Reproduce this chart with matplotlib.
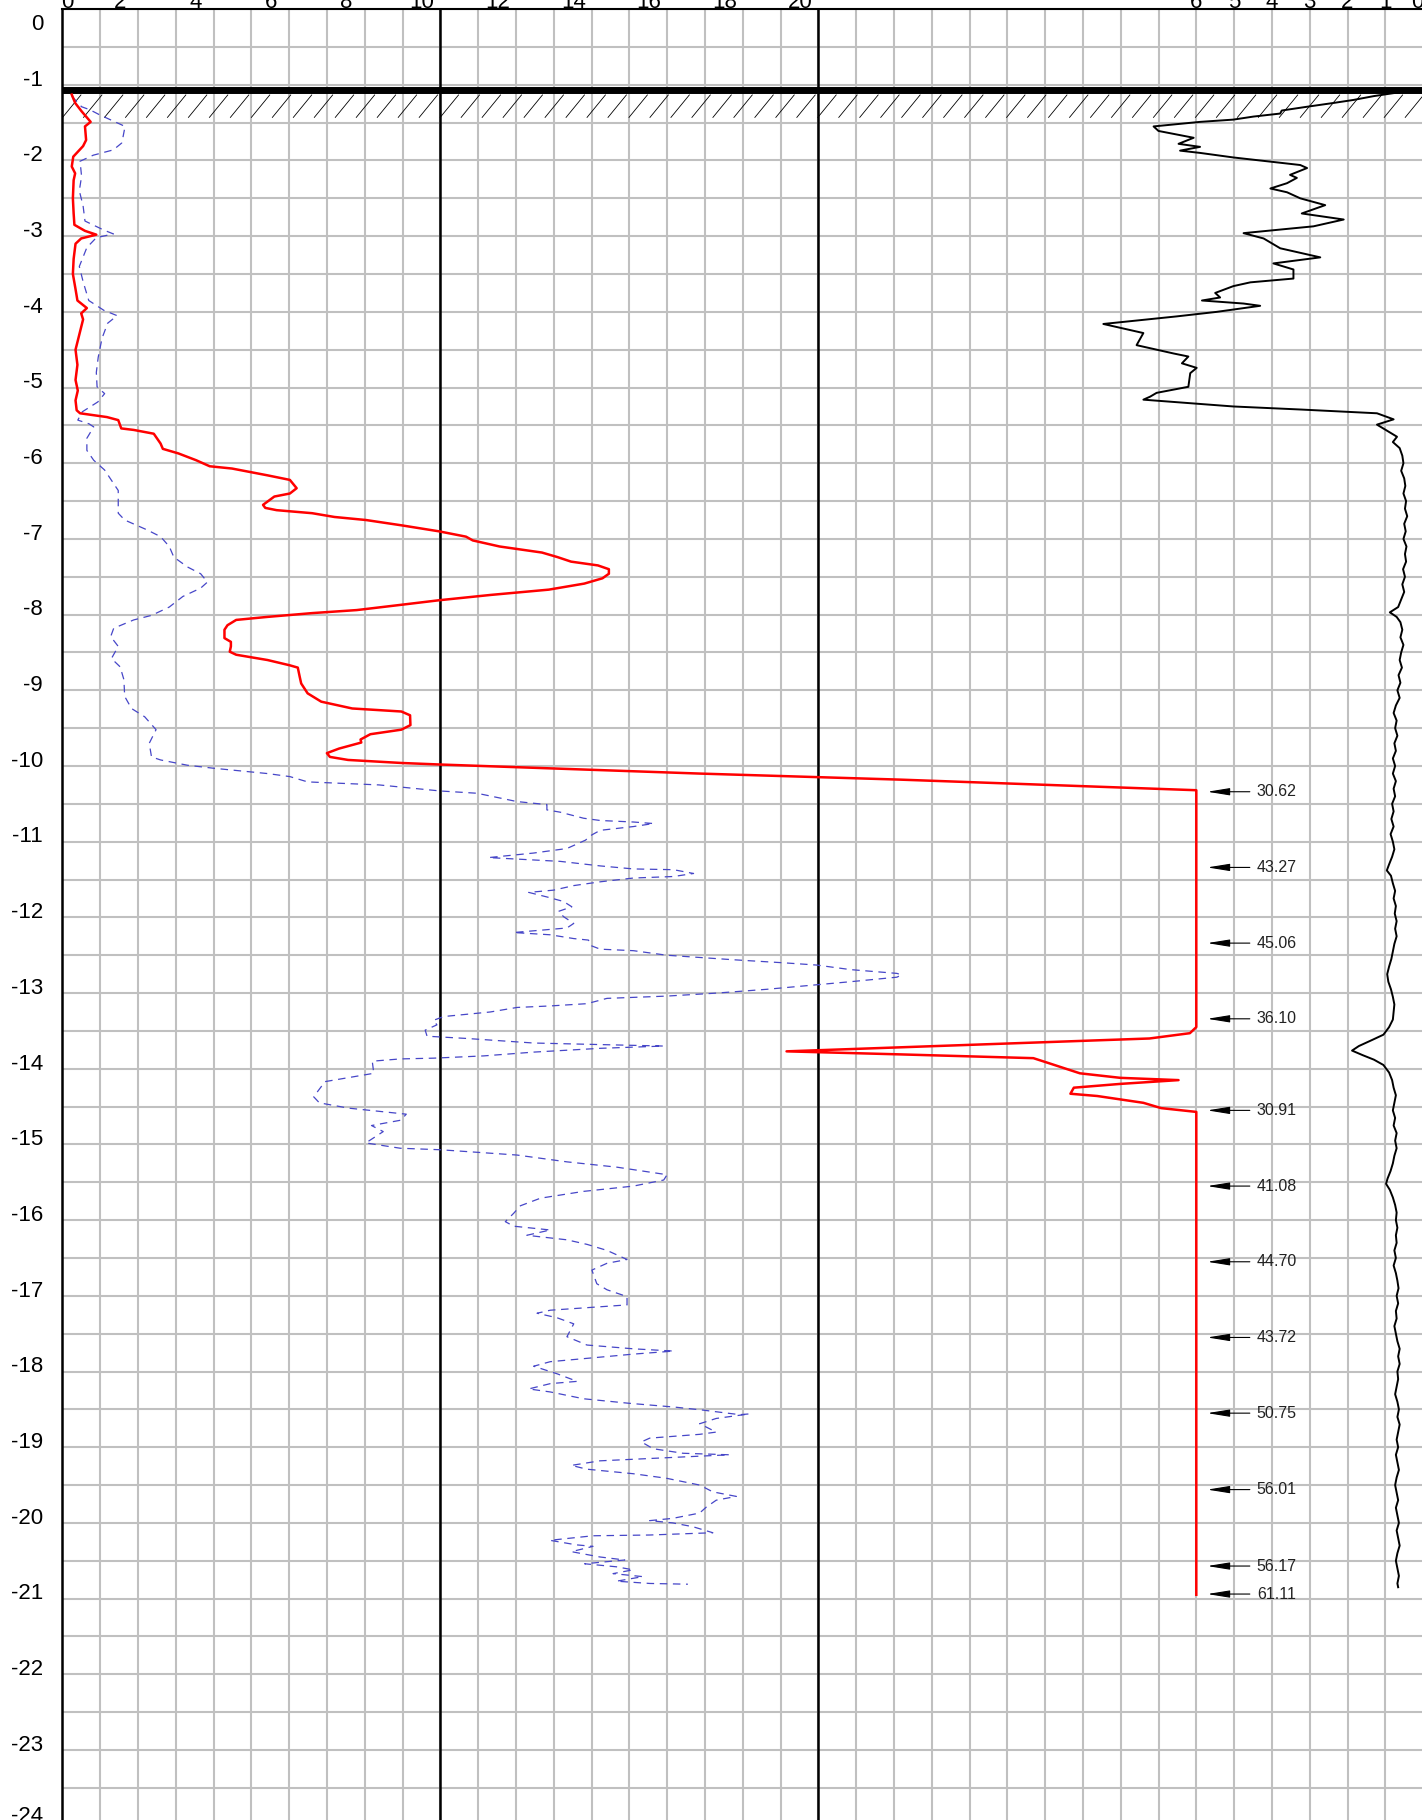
import numpy as np
import matplotlib
matplotlib.use("Agg")
import matplotlib.pyplot as plt
from matplotlib.collections import LineCollection

plt.rcParams['font.family'] = ['Liberation Sans', 'DejaVu Sans']

# DATA

# cone resistance qc (MPa), plotted on 0..30 scale (clipped at 30)
qc_points = [
    (-1.13, 0.25), (-1.24, 0.34), (-1.35, 0.51), (-1.49, 0.75), (-1.55, 0.60),
    (-1.73, 0.63), (-1.81, 0.55), (-1.95, 0.29), (-2.08, 0.25), (-2.17, 0.34),
    (-2.26, 0.30), (-2.50, 0.28), (-2.70, 0.30), (-2.85, 0.32), (-2.93, 0.60),
    (-2.98, 0.90), (-3.03, 0.50), (-3.10, 0.35), (-3.30, 0.30), (-3.50, 0.28),
    (-3.70, 0.35), (-3.85, 0.40), (-3.95, 0.65), (-4.02, 0.50), (-4.10, 0.55),
    (-4.30, 0.45), (-4.50, 0.35), (-4.70, 0.40), (-4.90, 0.35), (-5.04, 0.41),
    (-5.17, 0.35), (-5.30, 0.38), (-5.34, 0.47), (-5.39, 1.18), (-5.43, 1.48),
    (-5.54, 1.56), (-5.56, 1.89), (-5.61, 2.42), (-5.74, 2.60), (-5.81, 2.66),
    (-5.87, 3.07), (-5.96, 3.54), (-6.04, 3.90), (-6.07, 4.49), (-6.16, 5.43),
    (-6.22, 6.02), (-6.33, 6.20), (-6.40, 6.02), (-6.44, 5.61), (-6.55, 5.31),
    (-6.59, 5.37), (-6.62, 5.67), (-6.66, 6.61), (-6.71, 7.20), (-6.75, 8.03),
    (-6.82, 8.97), (-6.90, 9.97), (-6.97, 10.68), (-7.02, 10.86), (-7.10, 11.57),
    (-7.18, 12.69), (-7.24, 13.10), (-7.30, 13.46), (-7.35, 14.17), (-7.40, 14.46),
    (-7.46, 14.46), (-7.52, 14.29), (-7.59, 13.81), (-7.67, 12.87), (-7.74, 11.33),
    (-7.81, 9.97), (-7.87, 8.97), (-7.94, 7.79), (-7.98, 6.61), (-8.03, 5.43),
    (-8.07, 4.60), (-8.14, 4.37), (-8.20, 4.29), (-8.31, 4.29), (-8.36, 4.46),
    (-8.42, 4.46), (-8.49, 4.43), (-8.53, 4.60), (-8.60, 5.43), (-8.67, 6.02),
    (-8.70, 6.23), (-8.82, 6.28), (-8.91, 6.32), (-9.04, 6.49), (-9.15, 6.85),
    (-9.24, 7.67), (-9.28, 8.97), (-9.33, 9.20), (-9.46, 9.21), (-9.52, 8.97),
    (-9.58, 8.15), (-9.65, 7.89), (-9.69, 7.91), (-9.77, 7.32), (-9.83, 7.00),
    (-9.88, 7.08), (-9.92, 7.56), (-9.96, 8.97), (-9.98, 9.97), (-10.10, 16.86),
    (-10.18, 22.16), (-10.32, 30.0), (-13.45, 30.0), (-13.53, 29.83), (-13.60, 28.76),
    (-13.77, 19.16), (-13.81, 22.16), (-13.86, 25.69), (-13.91, 26.00), (-14.06, 26.92),
    (-14.12, 27.99), (-14.15, 29.53), (-14.20, 27.99), (-14.25, 26.76), (-14.33, 26.67),
    (-14.36, 27.38), (-14.45, 28.60), (-14.52, 29.07), (-14.57, 30.0), (-20.95, 30.0),
]

# sleeve friction (scaled), blue dashed
fs_points = [
    (-1.15, 0.25), (-1.29, 0.51), (-1.33, 0.73), (-1.40, 1.00), (-1.50, 1.44),
    (-1.55, 1.66), (-1.68, 1.61), (-1.77, 1.57), (-1.86, 1.35), (-1.93, 0.82),
    (-2.01, 0.47), (-2.21, 0.51), (-2.40, 0.45), (-2.60, 0.55), (-2.80, 0.60),
    (-2.92, 1.10), (-2.97, 1.35), (-3.02, 0.90), (-3.15, 0.65), (-3.40, 0.45),
    (-3.60, 0.55), (-3.85, 0.70), (-3.98, 1.10), (-4.05, 1.45), (-4.15, 1.20),
    (-4.35, 1.05), (-4.60, 0.95), (-4.80, 0.90), (-4.99, 0.92), (-5.08, 1.12),
    (-5.19, 0.94), (-5.32, 0.53), (-5.43, 0.41), (-5.48, 0.71), (-5.52, 0.83),
    (-5.67, 0.65), (-5.83, 0.65), (-5.96, 0.83), (-6.09, 1.12), (-6.36, 1.48),
    (-6.66, 1.48), (-6.75, 1.65), (-6.88, 2.24), (-6.97, 2.60), (-7.10, 2.83),
    (-7.24, 2.95), (-7.37, 3.31), (-7.46, 3.66), (-7.57, 3.84), (-7.65, 3.66),
    (-7.76, 3.19), (-7.90, 2.83), (-8.01, 2.36), (-8.07, 1.89), (-8.18, 1.36),
    (-8.29, 1.28), (-8.42, 1.48), (-8.58, 1.30), (-8.69, 1.53), (-8.86, 1.63),
    (-9.08, 1.65), (-9.24, 1.83), (-9.35, 2.18), (-9.52, 2.48), (-9.70, 2.30),
    (-9.88, 2.36), (-9.92, 2.60), (-9.99, 3.31), (-10.03, 4.01), (-10.10, 5.43),
    (-10.14, 6.02), (-10.21, 6.49), (-10.25, 8.38), (-10.30, 9.40), (-10.33, 10.00),
    (-10.36, 10.97), (-10.47, 12.03), (-10.51, 12.82), (-10.58, 12.82), (-10.61, 13.17),
    (-10.69, 13.79), (-10.72, 14.23), (-10.74, 15.11), (-10.76, 15.64), (-10.80, 15.11),
    (-10.85, 14.23), (-10.91, 14.01), (-10.98, 13.84), (-11.09, 13.35), (-11.15, 12.47),
    (-11.21, 11.28), (-11.23, 12.03), (-11.26, 13.17), (-11.32, 14.23), (-11.36, 15.11),
    (-11.37, 16.17), (-11.42, 16.70), (-11.46, 16.17), (-11.48, 15.11), (-11.53, 14.23),
    (-11.58, 13.53), (-11.64, 13.00), (-11.67, 12.34), (-11.73, 12.82), (-11.79, 13.26),
    (-11.86, 13.48), (-11.92, 13.13), (-11.99, 13.26), (-12.08, 13.53), (-12.14, 13.35),
    (-12.17, 12.65), (-12.20, 11.94), (-12.23, 12.91), (-12.28, 13.53), (-12.30, 13.92),
    (-12.37, 13.97), (-12.42, 14.23), (-12.44, 15.11), (-12.50, 15.99), (-12.53, 16.88),
    (-12.56, 17.76), (-12.60, 19.08), (-12.63, 19.96), (-12.69, 20.85), (-12.74, 22.08),
    (-12.76, 22.20), (-12.79, 22.08), (-12.85, 20.85), (-12.89, 19.96), (-12.95, 18.64),
    (-13.00, 17.32), (-13.04, 15.99), (-13.07, 14.41), (-13.14, 13.88), (-13.17, 12.91),
    (-13.19, 12.03), (-13.25, 11.32), (-13.31, 10.09), (-13.36, 9.82), (-13.42, 9.91),
    (-13.49, 9.60), (-13.57, 9.65), (-13.60, 10.71), (-13.66, 12.47), (-13.68, 14.23),
    (-13.70, 15.91), (-13.73, 14.23), (-13.78, 12.47), (-13.83, 11.15), (-13.86, 9.82),
    (-13.87, 8.94), (-13.90, 8.20), (-14.06, 8.24), (-14.17, 6.95), (-14.37, 6.65),
    (-14.45, 6.80), (-14.52, 7.57), (-14.60, 9.10), (-14.68, 8.95), (-14.75, 8.18),
    (-14.83, 8.49), (-14.98, 8.03), (-15.05, 8.94), (-15.07, 10.00), (-15.14, 12.03),
    (-15.23, 13.35), (-15.30, 14.67), (-15.40, 16.00), (-15.47, 15.91), (-15.55, 15.11),
    (-15.62, 13.79), (-15.71, 12.65), (-15.81, 12.12), (-15.91, 11.94), (-16.02, 11.72),
    (-16.08, 11.94), (-16.13, 12.91), (-16.20, 12.29), (-16.26, 13.35), (-16.32, 13.88),
    (-16.40, 14.41), (-16.52, 14.94), (-16.57, 14.41), (-16.66, 14.01), (-16.84, 14.14),
    (-16.92, 14.41), (-17.01, 14.94), (-17.12, 14.94), (-17.15, 14.06), (-17.19, 12.91),
    (-17.23, 12.56), (-17.29, 13.09), (-17.37, 13.53), (-17.54, 13.35), (-17.65, 13.88),
    (-17.70, 15.11), (-17.73, 16.17), (-17.77, 15.11), (-17.83, 13.79), (-17.87, 12.91),
    (-17.93, 12.47), (-18.03, 13.09), (-18.13, 13.62), (-18.16, 12.91), (-18.23, 12.34),
    (-18.27, 12.91), (-18.36, 13.79), (-18.42, 15.00), (-18.47, 16.20), (-18.51, 16.95),
    (-18.57, 17.92), (-18.56, 18.18), (-18.62, 17.30), (-18.69, 16.86), (-18.80, 17.30),
    (-18.83, 16.86), (-18.88, 15.54), (-18.93, 15.32), (-19.02, 15.63), (-19.08, 16.42),
    (-19.10, 17.65), (-19.15, 15.54), (-19.18, 14.22), (-19.24, 13.47), (-19.29, 13.87),
    (-19.35, 15.10), (-19.41, 15.98), (-19.50, 16.86), (-19.59, 17.21), (-19.65, 17.83),
    (-19.70, 17.30), (-19.79, 17.04), (-19.87, 16.86), (-19.94, 16.15), (-19.97, 15.54),
    (-20.00, 16.15), (-20.05, 16.68), (-20.13, 17.21), (-20.16, 15.54), (-20.17, 14.04),
    (-20.23, 12.90), (-20.29, 13.60), (-20.31, 14.04), (-20.38, 13.47), (-20.45, 14.22),
    (-20.49, 14.88), (-20.54, 13.82), (-20.58, 14.66), (-20.62, 15.10), (-20.67, 14.57),
    (-20.71, 15.36), (-20.77, 14.66), (-20.80, 15.54), (-20.81, 16.55),
]

# friction ratio Rf (%), right-hand reversed scale 0..6
rf_points = [
    (-1.08, 0.15), (-1.11, 0.78), (-1.15, 1.31), (-1.20, 1.84), (-1.24, 2.37),
    (-1.29, 3.07), (-1.34, 3.74), (-1.38, 3.78), (-1.42, 4.49), (-1.46, 5.02),
    (-1.49, 5.90), (-1.55, 7.13), (-1.61, 7.00), (-1.70, 6.07), (-1.78, 6.47),
    (-1.82, 5.90), (-1.87, 6.43), (-1.90, 5.90), (-1.96, 5.02), (-2.06, 3.25),
    (-2.10, 3.07), (-2.19, 3.52), (-2.23, 3.34), (-2.30, 3.60), (-2.37, 4.04),
    (-2.42, 3.60), (-2.50, 3.25), (-2.59, 2.59), (-2.70, 3.21), (-2.76, 2.37),
    (-2.78, 2.10), (-2.87, 2.90), (-2.96, 4.75), (-3.03, 4.22), (-3.16, 3.78),
    (-3.20, 3.43), (-3.28, 2.72), (-3.36, 3.96), (-3.44, 3.43), (-3.56, 3.43),
    (-3.61, 4.57), (-3.66, 5.02), (-3.75, 5.50), (-3.81, 5.37), (-3.85, 5.85),
    (-3.89, 4.75), (-3.92, 4.31), (-4.00, 5.46), (-4.06, 6.52), (-4.16, 8.46),
    (-4.28, 7.40), (-4.44, 7.58), (-4.55, 6.60), (-4.59, 6.21), (-4.68, 6.38),
    (-4.74, 5.99), (-4.81, 6.16), (-4.99, 6.21), (-5.07, 7.05), (-5.12, 7.22),
    (-5.16, 7.40), (-5.25, 5.02), (-5.29, 3.25), (-5.34, 1.22), (-5.42, 0.78),
    (-5.49, 1.22), (-5.65, 0.69), (-5.72, 0.80), (-5.80, 0.62), (-5.90, 0.55),
    (-6.00, 0.52), (-6.10, 0.58), (-6.20, 0.50), (-6.30, 0.47), (-6.40, 0.52),
    (-6.50, 0.45), (-6.60, 0.48), (-6.70, 0.42), (-6.80, 0.50), (-6.90, 0.46),
    (-7.00, 0.52), (-7.10, 0.44), (-7.20, 0.48), (-7.30, 0.45), (-7.40, 0.53),
    (-7.50, 0.48), (-7.60, 0.55), (-7.70, 0.50), (-7.80, 0.58), (-7.90, 0.66),
    (-7.97, 0.88), (-8.03, 0.70), (-8.10, 0.60), (-8.20, 0.55), (-8.30, 0.60),
    (-8.40, 0.52), (-8.50, 0.58), (-8.60, 0.62), (-8.70, 0.56), (-8.80, 0.65),
    (-8.90, 0.60), (-9.00, 0.68), (-9.10, 0.62), (-9.20, 0.72), (-9.30, 0.78),
    (-9.40, 0.70), (-9.50, 0.74), (-9.60, 0.68), (-9.70, 0.76), (-9.80, 0.72),
    (-9.90, 0.80), (-10.00, 0.74), (-10.10, 0.80), (-10.20, 0.72), (-10.30, 0.78),
    (-10.40, 0.74), (-10.50, 0.82), (-10.60, 0.78), (-10.70, 0.84), (-10.80, 0.78),
    (-10.90, 0.86), (-11.00, 0.80), (-11.10, 0.76), (-11.20, 0.82), (-11.30, 0.90),
    (-11.38, 0.96), (-11.45, 0.85), (-11.55, 0.80), (-11.65, 0.74), (-11.75, 0.78),
    (-11.85, 0.72), (-11.95, 0.75), (-12.05, 0.70), (-12.15, 0.74), (-12.25, 0.70),
    (-12.35, 0.76), (-12.45, 0.80), (-12.55, 0.84), (-12.65, 0.90), (-12.75, 0.95),
    (-12.85, 0.92), (-12.95, 0.85), (-13.05, 0.80), (-13.15, 0.76), (-13.25, 0.78),
    (-13.35, 0.80), (-13.45, 0.90), (-13.55, 1.05), (-13.62, 1.35), (-13.70, 1.70),
    (-13.76, 1.88), (-13.82, 1.60), (-13.88, 1.30), (-13.95, 1.05), (-14.05, 0.90),
    (-14.15, 0.82), (-14.25, 0.78), (-14.35, 0.72), (-14.45, 0.76), (-14.55, 0.80),
    (-14.65, 0.74), (-14.75, 0.78), (-14.85, 0.70), (-14.95, 0.74), (-15.05, 0.70),
    (-15.15, 0.76), (-15.25, 0.80), (-15.35, 0.86), (-15.45, 0.94), (-15.52, 0.98),
    (-15.60, 0.88), (-15.70, 0.80), (-15.80, 0.74), (-15.90, 0.70), (-16.00, 0.72),
    (-16.10, 0.68), (-16.20, 0.72), (-16.30, 0.70), (-16.40, 0.76), (-16.50, 0.72),
    (-16.60, 0.78), (-16.70, 0.72), (-16.80, 0.68), (-16.90, 0.65), (-17.00, 0.70),
    (-17.10, 0.66), (-17.20, 0.72), (-17.30, 0.70), (-17.40, 0.76), (-17.50, 0.72),
    (-17.60, 0.68), (-17.70, 0.62), (-17.80, 0.66), (-17.90, 0.62), (-18.00, 0.68),
    (-18.10, 0.66), (-18.20, 0.70), (-18.30, 0.74), (-18.40, 0.68), (-18.50, 0.64),
    (-18.60, 0.68), (-18.70, 0.62), (-18.80, 0.66), (-18.90, 0.70), (-19.00, 0.66),
    (-19.10, 0.72), (-19.20, 0.68), (-19.30, 0.64), (-19.40, 0.70), (-19.50, 0.74),
    (-19.60, 0.70), (-19.70, 0.66), (-19.80, 0.72), (-19.90, 0.68), (-20.00, 0.64),
    (-20.10, 0.70), (-20.20, 0.66), (-20.30, 0.62), (-20.40, 0.68), (-20.50, 0.72),
    (-20.60, 0.68), (-20.70, 0.64), (-20.80, 0.68), (-20.85, 0.66),
]

# qc values beyond the 30 MPa clip, shown with arrows
peak_depths = [-10.34, -11.34, -12.34, -13.34, -14.55, -15.55,
               -16.55, -17.55, -18.55, -19.56, -20.57, -20.94]
peak_labels = ["30.62", "43.27", "45.06", "36.10", "30.91", "41.08",
               "44.70", "43.72", "50.75", "56.01", "56.17", "61.11"]

depth_ticks = list(range(0, -25, -1))
qc_ticks = list(range(0, 21, 2))
rf_ticks = [6, 5, 4, 3, 2, 1, 0]

ground_level = -1.075
x_max = 36          # right edge of the plot in qc units; Rf 0 sits here
qc_clip = 30

# FIGURE
W, H = 1422, 1820
fig = plt.figure(figsize=(W / 100, H / 100), dpi=100)
left_px, top_px = 62.3, 9.1
px_x, px_y = 37.8, 75.69
ax = fig.add_axes([left_px / W, (H - top_px - 24 * px_y) / H,
                   x_max * px_x / W, 24 * px_y / H])
ax.set_xlim(0, x_max)
ax.set_ylim(-24, 0)

ax.set_xticks(np.arange(0, x_max + 1, 1))
ax.set_yticks(np.arange(-24, 0.01, 0.5))
ax.tick_params(length=0, labelbottom=False, labelleft=False)
ax.grid(True, color="#c0c0c0", lw=1.5, zorder=0)
ax.set_axisbelow(True)
for s in ["right", "bottom"]:
    ax.spines[s].set_visible(False)
ax.spines["left"].set_linewidth(1.8)
ax.spines["top"].set_linewidth(1.5)
for v in [10, 20]:
    ax.axvline(v, color="black", lw=1.8, zorder=1)

# ground level and hatching
ax.axhline(ground_level, color="black", lw=5, zorder=3)
hatch_x = np.arange(0, x_max, 0.555)
segs = [[(x0, -1.435), (x0 + 0.5, -1.13)] for x0 in hatch_x]
ax.add_collection(LineCollection(segs, colors="black", linewidths=0.6, zorder=2))

# curves
qc = np.array(qc_points)
fs = np.array(fs_points)
rf = np.array(rf_points)
ax.plot(fs[:, 1], fs[:, 0], color="#4646c8", lw=0.9, ls=(0, (6, 4.5)), zorder=4)
ax.plot(qc[:, 1], qc[:, 0], color="#ff0000", lw=1.8, zorder=5)
ax.plot(x_max - rf[:, 1], rf[:, 0], color="black", lw=1.4, zorder=5)

# peak values with arrows
for d, lab in zip(peak_depths, peak_labels):
    ax.annotate(lab, xy=(qc_clip + 0.29, d), xytext=(31.6, d),
                ha="left", va="center", fontsize=11.5, color="#222222",
                arrowprops=dict(arrowstyle="-|>,head_length=0.68,head_width=0.11",
                                color="black", lw=0.8, shrinkA=3, shrinkB=0,
                                mutation_scale=20))

# depth labels
fs_lab = 16
for v in depth_ticks:
    y = v - 0.01
    if v == 0:
        y = -0.272
    if v == -24:
        y = -23.95
    ax.text(-0.51, y, str(v), ha="right", va="baseline", fontsize=fs_lab,
            clip_on=False)

# top scale labels (qc left, Rf right)
for v in qc_ticks:
    x = v - 0.48 if v else 0.12
    ax.text(x, 0.021, str(v), ha="center", va="baseline", fontsize=fs_lab,
            clip_on=False)
for v in rf_ticks:
    x = x_max - v if v else x_max - 0.16
    ax.text(x, 0.021, str(v), ha="center", va="baseline", fontsize=fs_lab,
            clip_on=False)

fig.savefig("out.png", dpi=100, facecolor="white")
